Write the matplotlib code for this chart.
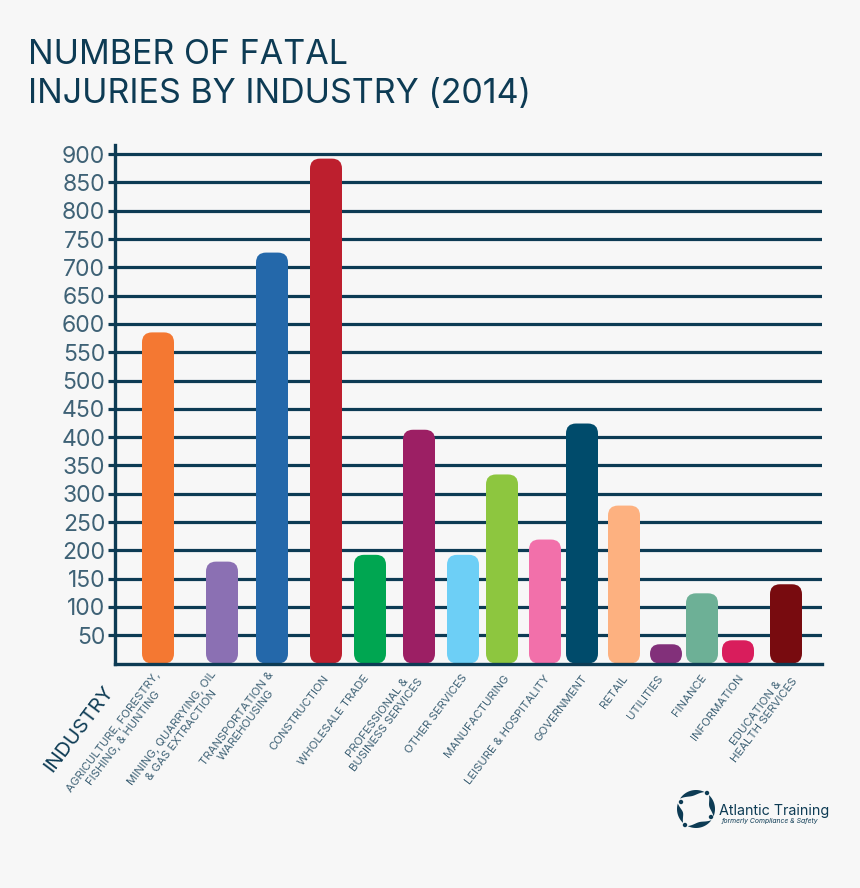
#!/usr/bin/env python3
"""Number of fatal injuries by industry (2014), rounded bar chart."""

import matplotlib
matplotlib.use("Agg")
import matplotlib.pyplot as plt
import numpy as np
from matplotlib.patches import Circle, FancyBboxPatch, Polygon

plt.rcParams["font.family"] = ["Inter", "DejaVu Sans"]

industries = [
    "AGRICULTURE, FORESTRY,\nFISHING, & HUNTING",
    "MINING, QUARRYING, OIL\n& GAS EXTRACTION",
    "TRANSPORTATION &\nWAREHOUSING",
    "CONSTRUCTION",
    "WHOLESALE TRADE",
    "PROFESSIONAL &\nBUSINESS SERVICES",
    "OTHER SERVICES",
    "MANUFACTURING",
    "LEISURE & HOSPITALITY",
    "GOVERNMENT",
    "RETAIL",
    "UTILITIES",
    "FINANCE",
    "INFORMATION",
    "EDUCATION &\nHEALTH SERVICES",
]
fatalities = [585, 180, 726, 892, 192, 413, 192, 334, 219, 424, 279, 34, 124, 41, 140]
bar_colors = [
    "#f47832", "#8b70b3", "#2468aa", "#bd1f2e", "#00a651", "#9c1f64", "#6dcff6", "#8dc63f",
    "#f270aa", "#004b6b", "#fdb180", "#82307a", "#6db096", "#d91d5c", "#780b0f",
]
y_ticks = list(range(50, 901, 50))

W, H = 860, 888
NAVY = "#0d3b54"
LABEL = "#3f6276"
BG = "#f7f7f7"
PX_PER_UNIT = 0.566
BAR_W = 32
# bar centres and label anchors, in figure pixels
centers = [158, 222, 272, 326, 370, 419, 463, 502, 545, 582, 624, 666, 702, 738, 786]
label_x = [163, 219, 276, 327, 367, 416, 465, 507, 548, 585, 626, 661, 704, 741, 791]

fig = plt.figure(figsize=(W / 100, H / 100), dpi=100, facecolor=BG)
ax = fig.add_axes([115 / W, (H - 663.5) / H, (822 - 115) / W, (663.5 - 145) / H])
ax.set_facecolor(BG)
ax.set_xlim(115, 822)
ax.set_ylim(0, (663.5 - 145) / PX_PER_UNIT)

for v in y_ticks:
    ax.axhline(v, color=NAVY, lw=2.3, zorder=1)

for cx, v, c in zip(centers, fatalities, bar_colors):
    top_r = min(10, v * PX_PER_UNIT / 2)
    ax.add_patch(FancyBboxPatch(
        (cx - BAR_W / 2, 0), BAR_W, v,
        boxstyle=f"round,pad=0,rounding_size={top_r}",
        mutation_aspect=1 / PX_PER_UNIT, fc=c, ec="none", zorder=2,
    ))

for s in ["top", "right"]:
    ax.spines[s].set_visible(False)
for s in ["left", "bottom"]:
    ax.spines[s].set_color(NAVY)
    ax.spines[s].set_linewidth(2.4)
    ax.spines[s].set_zorder(3)
ax.set_xticks([])
ax.set_yticks(y_ticks)
ax.tick_params(axis="y", length=5, width=2.3, color=NAVY, labelcolor=LABEL, labelsize=16.5, pad=2)

# everything outside the plot is placed in figure pixels
ov = fig.add_axes([0, 0, 1, 1], facecolor="none")
ov.set_xlim(0, W)
ov.set_ylim(H, 0)
ov.axis("off")

ov.text(28, 64, "NUMBER OF FATAL", fontsize=24.5, color=NAVY, va="baseline")
ov.text(28, 103, "INJURIES BY INDUSTRY (2014)", fontsize=24.5, color=NAVY, va="baseline")

ROT = 53
for lx, name in zip(label_x, industries):
    ov.text(lx, 676, name, fontsize=8.2, color=LABEL, rotation=ROT, rotation_mode="anchor",
            ha="right", va="center", multialignment="center")
ov.text(110, 688, "INDUSTRY", fontsize=14.5, color=NAVY, rotation=ROT, rotation_mode="anchor",
        ha="right", va="center")

# logo: four tapered swooshes on a ring, with a dot in each gap
lx, ly = 696, 809
for start, span in [(36, 80), (133, 64), (213, 84), (313, 70)]:
    t = np.radians(np.linspace(start, start + span, 30))
    thick = 5.5 * np.sin(np.linspace(0, np.pi, 30))
    outer = 19 * np.c_[np.cos(t), np.sin(t)]
    inner = ((19 - thick) * np.c_[np.cos(t), np.sin(t)].T).T[::-1]
    ov.add_patch(Polygon(np.r_[outer, inner] + [lx, ly], fc=NAVY, ec="none"))
for dx, dy in [(-15, -7), (11, -16), (15, 8), (-11, 16)]:
    ov.add_patch(Circle((lx + dx, ly + dy), 2.2, fc=NAVY, ec="none"))
ov.text(719, 815, "Atlantic Training", fontsize=10.3, color=NAVY, va="baseline")
ov.text(722, 823, "formerly Compliance & Safety", fontsize=4.9, style="italic", color=NAVY, va="baseline")

fig.savefig("out.png", dpi=100, facecolor=BG)
